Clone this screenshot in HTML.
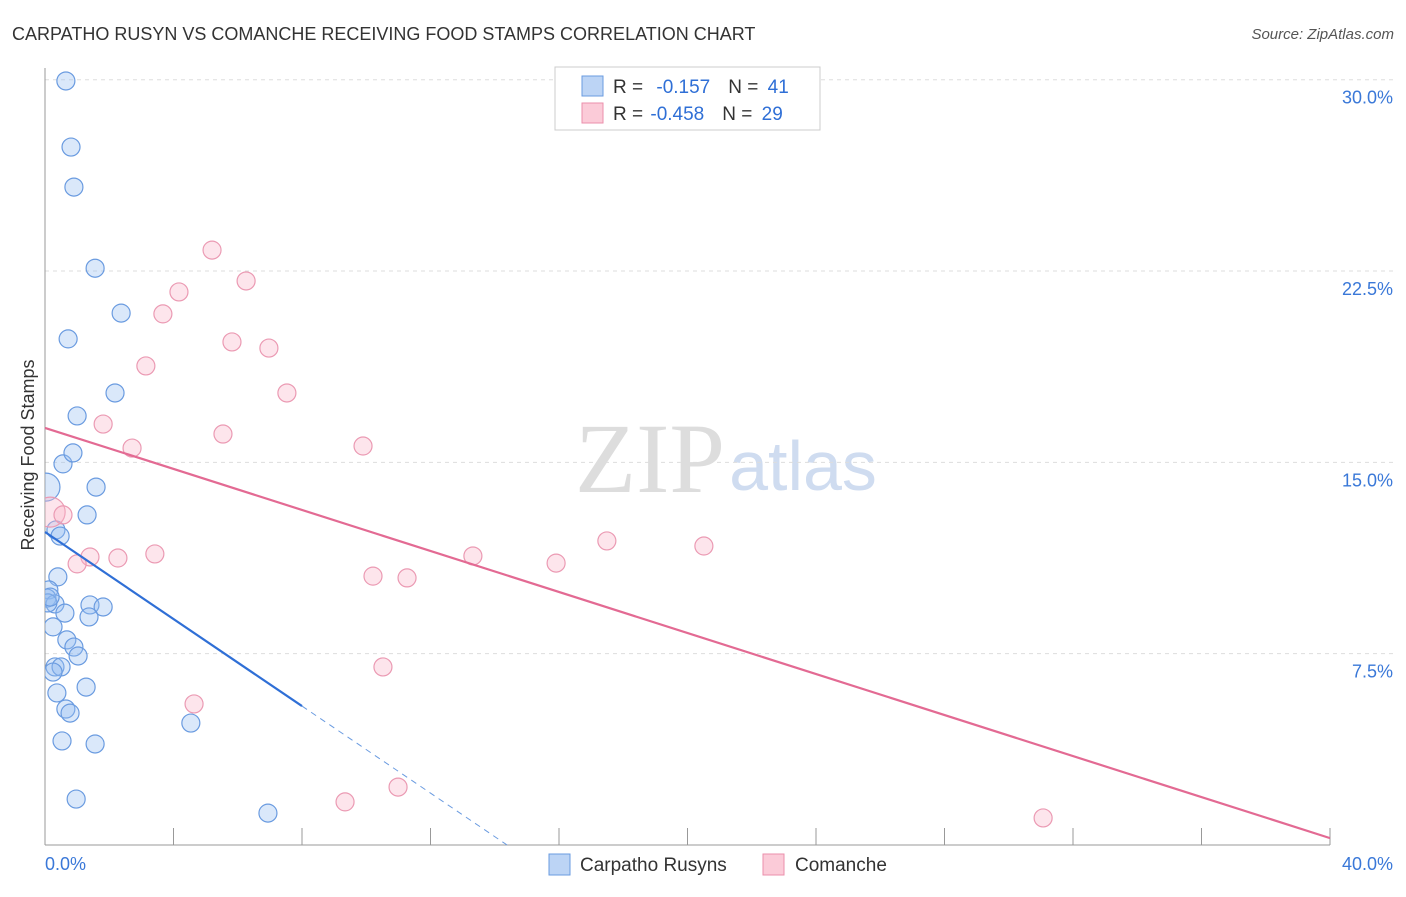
<!DOCTYPE html>
<html><head><meta charset="utf-8"><style>
body{margin:0;background:#fff;font-family:"Liberation Sans",sans-serif;}
</style></head><body>
<svg width="1406" height="892" viewBox="0 0 1406 892" xmlns="http://www.w3.org/2000/svg">
<defs><clipPath id="pa"><rect x="45" y="60" width="1350" height="785"/></clipPath></defs>
<text x="12" y="40" font-size="18" fill="#333">CARPATHO RUSYN VS COMANCHE RECEIVING FOOD STAMPS CORRELATION CHART</text>
<text x="1394" y="39" font-size="15" fill="#555" font-style="italic" text-anchor="end">Source: ZipAtlas.com</text>
<text x="650" y="492" font-size="100" fill="#ddd" font-family="Liberation Serif,serif" text-anchor="middle">ZIP</text>
<text x="803" y="490" font-size="70" fill="#cfdcf0" text-anchor="middle">atlas</text>
<g id="grid"></g>
<g id="axes"></g>
<g id="marks" clip-path="url(#pa)"></g>
<g id="trend"></g>
<text transform="translate(34,455) rotate(-90)" font-size="18" fill="#333" text-anchor="middle">Receiving Food Stamps</text>
<g>
<rect x="555" y="67" width="265" height="63" fill="#fff" stroke="#ccc"/>
<rect x="582" y="76" width="21" height="20" fill="#bcd4f5" stroke="#6a9be0"/>
<rect x="582" y="103" width="21" height="20" fill="#fbcbd8" stroke="#eb8fab"/>
<text x="613" y="93" font-size="19" fill="#333">R = <tspan fill="#2f6fd6" dx="8">-0.157</tspan><tspan dx="18" fill="#333">N = </tspan><tspan fill="#2f6fd6" dx="4">41</tspan></text>
<text x="613" y="120" font-size="19" fill="#333">R = <tspan fill="#2f6fd6" dx="2">-0.458</tspan><tspan dx="18" fill="#333">N = </tspan><tspan fill="#2f6fd6" dx="4">29</tspan></text>
</g>
<g>
<rect x="549" y="854" width="21" height="21" fill="#bcd4f5" stroke="#6a9be0"/>
<text x="580" y="871" font-size="19" fill="#333">Carpatho Rusyns</text>
<rect x="763" y="854" width="21" height="21" fill="#fbcbd8" stroke="#eb8fab"/>
<text x="795" y="871" font-size="19" fill="#333">Comanche</text>
</g>
</svg>
<script>
const NS="http://www.w3.org/2000/svg";
const yTicks=[7.5,15,22.5,30];
const yTickLabels=["7.5%","15.0%","22.5%","30.0%"];
const xTicks=[0,4,8,12,16,20,24,28,32,36,40];
const blueX=[0.65,0.81,0.90,1.56,2.37,0.72,2.18,1.00,0.56,0.87,1.59,0.03,1.31,0.34,0.47,0.40,0.12,0.06,0.31,1.40,1.81,0.62,1.37,0.25,0.68,0.90,1.03,0.31,0.50,0.25,1.28,0.37,0.65,0.78,4.54,0.53,1.56,0.97,6.94,0.09,0.16];
const blueY=[29.95,27.36,25.79,22.61,20.85,19.84,17.72,16.82,14.94,15.37,14.03,14.03,12.94,12.35,12.11,10.51,10.00,9.68,9.45,9.41,9.33,9.09,8.94,8.55,8.04,7.76,7.41,6.98,6.98,6.78,6.19,5.96,5.33,5.17,4.78,4.08,3.96,1.80,1.25,9.49,9.72];
const pinkX=[5.20,6.26,4.17,3.67,5.82,6.97,3.14,7.53,1.81,5.54,2.71,9.90,0.16,0.56,1.40,2.27,3.42,1.00,13.32,15.91,17.49,20.51,10.21,11.27,10.52,4.64,9.34,10.99,31.07];
const pinkY=[23.32,22.11,21.68,20.82,19.72,19.48,18.78,17.72,16.50,16.11,15.56,15.64,13.05,12.94,11.29,11.25,11.41,11.02,11.33,11.05,11.92,11.72,10.54,10.47,6.98,5.53,1.69,2.27,1.06];
const blueTrend=[12.27,-0.853]; // intercept, slope
const pinkTrend=[16.35,-0.402];
const X=v=>45+v*(1285/40), Y=v=>845-v*(765.3/30);
function mk(p,t,a){const e=document.createElementNS(NS,t);for(const k in a)e.setAttribute(k,a[k]);p.appendChild(e);return e;}
const grid=document.getElementById('grid'),axes=document.getElementById('axes'),marks=document.getElementById('marks'),trend=document.getElementById('trend');
yTicks.forEach((t,i)=>{
 const l=mk(grid,'line',{x1:45,x2:1395,y1:Y(t),y2:Y(t),stroke:'#ddd','stroke-dasharray':'4,4'});
 
 
 const tx=mk(axes,'text',{x:1393,y:Y(t)+24,'font-size':18,fill:'#3a78d8','text-anchor':'end'});
 tx.textContent=yTickLabels[i];
 
 
});
const ax=mk(axes,'line',{x1:45,x2:1330,y1:845,y2:845,stroke:'#999'});


const ay=mk(axes,'line',{x1:45,x2:45,y1:68,y2:845,stroke:'#999'});


xTicks.forEach(t=>{
 const l=mk(axes,'line',{x1:X(t),x2:X(t),y1:828,y2:845,stroke:'#999'});
 
 
});
const xl0=mk(axes,'text',{x:45,y:870,'font-size':18,fill:'#3a78d8'});xl0.textContent='0.0%';


const xl1=mk(axes,'text',{x:1393,y:870,'font-size':18,fill:'#3a78d8','text-anchor':'end'});xl1.textContent='40.0%';


blueX.forEach((x,i)=>{
 const c=mk(marks,'circle',{cx:X(x),cy:Y(blueY[i]),r:(i==11?14:9),fill:'rgba(150,190,240,0.35)',stroke:'#6a9be0','stroke-width':1.2});
 
 
});
pinkX.forEach((x,i)=>{
 const c=mk(marks,'circle',{cx:X(x),cy:Y(pinkY[i]),r:(i==12?15:9),fill:'rgba(248,180,200,0.35)',stroke:'#eb9ab3','stroke-width':1.2});
 
 
});
const bEnd=8, bZero=-blueTrend[0]/blueTrend[1];
const b1=mk(trend,'line',{x1:X(0),y1:Y(blueTrend[0]),x2:X(bEnd),y2:Y(blueTrend[0]+blueTrend[1]*bEnd),stroke:'#2f6fd6','stroke-width':2.2});


const b2=mk(trend,'line',{x1:X(bEnd),y1:Y(blueTrend[0]+blueTrend[1]*bEnd),x2:X(bZero),y2:Y(0),stroke:'#6a9be0','stroke-width':1,'stroke-dasharray':'6,5'});


const p1=mk(trend,'line',{x1:X(0),y1:Y(pinkTrend[0]),x2:X(40),y2:Y(pinkTrend[0]+pinkTrend[1]*40),stroke:'#e36a93','stroke-width':2.2});


</script>
</body></html>
